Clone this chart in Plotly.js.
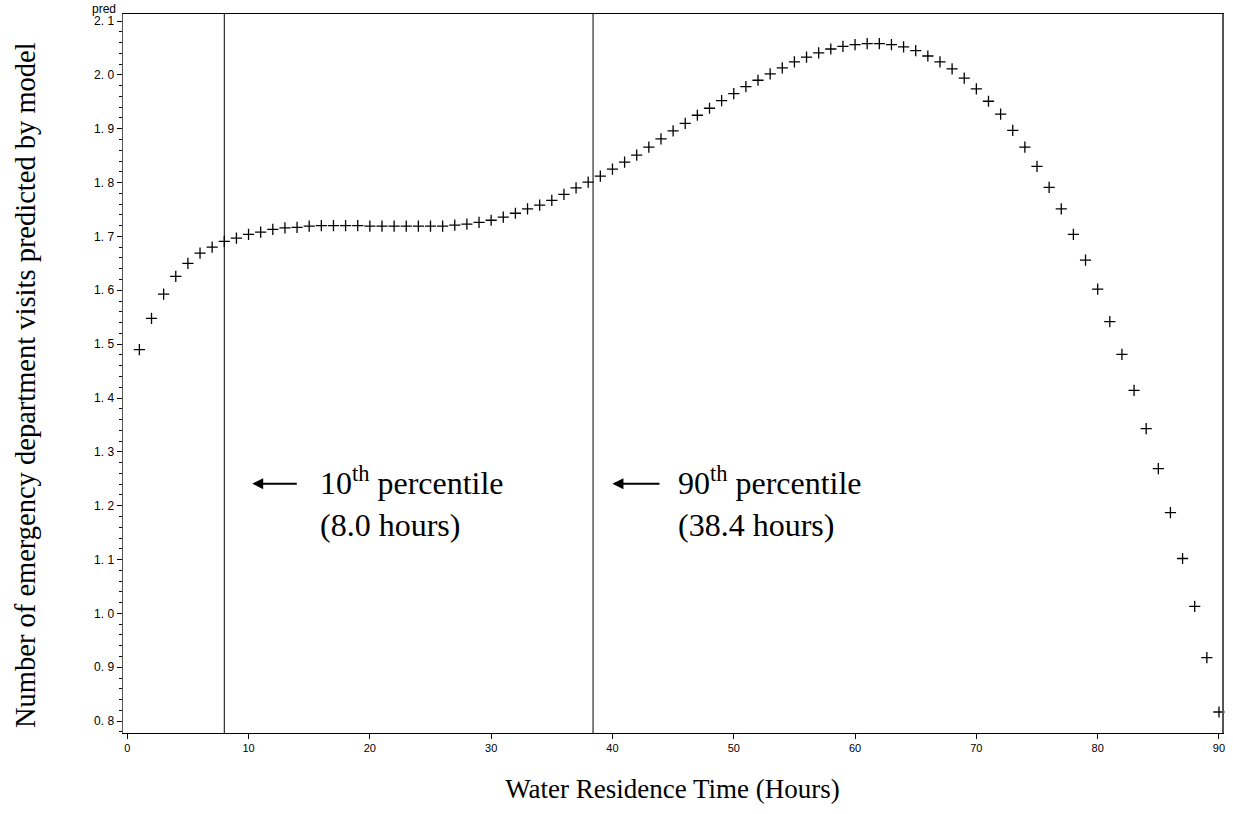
<!DOCTYPE html>
<html>
<head>
<meta charset="utf-8">
<script src="https://cdn.plot.ly/plotly-3.0.1.min.js"></script>
<style>
html,body{margin:0;padding:0;background:#fff;}
#chart{width:1233px;height:814px;}
</style>
</head>
<body>
<div id="chart"></div>
<script>
// Water residence time (hours)
const hours = [];
for (let i = 1; i <= 90; i++) hours.push(i);
// Predicted number of ED visits
const pred = [
  1.490, 1.548, 1.593, 1.626, 1.650, 1.669, 1.680, 1.691, 1.697, 1.704,
  1.708, 1.713, 1.716, 1.717, 1.719, 1.720, 1.720, 1.720, 1.720, 1.719,
  1.719, 1.719, 1.719, 1.719, 1.719, 1.719, 1.721, 1.723, 1.726, 1.730,
  1.736, 1.743, 1.751, 1.758, 1.767, 1.778, 1.790, 1.801, 1.812, 1.825,
  1.838, 1.851, 1.866, 1.881, 1.896, 1.910, 1.925, 1.938, 1.952, 1.965,
  1.978, 1.990, 2.002, 2.013, 2.024, 2.033, 2.041, 2.048, 2.053, 2.056,
  2.058, 2.058, 2.056, 2.052, 2.045, 2.035, 2.024, 2.011, 1.994, 1.974,
  1.951, 1.927, 1.897, 1.866, 1.830, 1.791, 1.751, 1.704, 1.656, 1.602,
  1.542, 1.481, 1.414, 1.343, 1.269, 1.187, 1.102, 1.013, 0.918, 0.817
];
// Percentile reference lines
const percentileX = [8.0, 38.4];
const percentileLabels = ["10<sup>th</sup> percentile", "90<sup>th</sup> percentile"];
const percentileHours = ["(8.0 hours)", "(38.4 hours)"];
const yTickVals = [0.8,0.9,1.0,1.1,1.2,1.3,1.4,1.5,1.6,1.7,1.8,1.9,2.0,2.1];
const yTickText = ["0. 8","0. 9","1. 0","1. 1","1. 2","1. 3","1. 4","1. 5","1. 6","1. 7","1. 8","1. 9","2. 0","2. 1"];
const xTickVals = [0,10,20,30,40,50,60,70,80,90];
const xTitle = 'Water Residence Time (Hours)';
const yTitle = 'Number of emergency department visits predicted by model';

const serif = "Liberation Serif, Times New Roman, serif";
const sans = "Liberation Sans, Arial, sans-serif";

const YR = [0.778, 2.113];
const shapes = percentileX.map(x => ({
  type: 'line', xref: 'x', yref: 'paper', x0: x, x1: x, y0: 0, y1: 1,
  line: {color: '#000', width: 1}
}));

// label placement offsets (layout, not data)
const headOff = [2.3, 1.6];
const tailOff = [6.1, 5.6];
const textOff = [7.7, 6.8];

const annotations = [];
percentileX.forEach((x, i) => {
  annotations.push({
    xref: 'x', yref: 'y', x: x + headOff[i], y: 1.241,
    axref: 'x', ayref: 'y', ax: x + tailOff[i], ay: 1.241,
    text: '', showarrow: true, arrowhead: 2, arrowsize: 1.1, arrowwidth: 2, arrowcolor: '#000'
  });
  annotations.push({
    xref: 'x', yref: 'y', x: x + textOff[i], y: 1.246, xanchor: 'left', yanchor: 'middle',
    text: percentileLabels[i], showarrow: false,
    font: {family: serif, size: 32, color: '#000'}
  });
  annotations.push({
    xref: 'x', yref: 'y', x: x + textOff[i], y: 1.165, xanchor: 'left', yanchor: 'middle',
    text: percentileHours[i], showarrow: false,
    font: {family: serif, size: 32, color: '#000'}
  });
});
annotations.push({
  xref: 'paper', yref: 'paper', x: 0, y: 1, xanchor: 'right', yanchor: 'bottom',
  xshift: -5, yshift: -4, text: 'pred', showarrow: false,
  font: {family: sans, size: 12, color: '#000'}
});
// y-axis title drawn as rotated text
annotations.push({
  xref: 'paper', yref: 'paper', x: 0, y: 0.484, xanchor: 'center', yanchor: 'middle',
  xshift: -98, text: yTitle, textangle: -90, showarrow: false,
  font: {family: serif, size: 28.5, color: '#000'}
});

const trace = {
  x: hours, y: pred, type: 'scatter', mode: 'markers',
  marker: {symbol: 'cross-thin-open', size: 8, color: '#000', line: {color: '#000', width: 1.3}},
  cliponaxis: false, hoverinfo: 'x+y'
};

const layout = {
  width: 1233, height: 814,
  margin: {l: 123, r: 11, t: 14, b: 81},
  paper_bgcolor: '#fff', plot_bgcolor: '#fff',
  showlegend: false,
  xaxis: {
    range: [-0.35, 90.25], tickvals: xTickVals, ticktext: xTickVals.map(String),
    ticks: 'outside', ticklen: 5, tickwidth: 1, tickcolor: '#000',
    showgrid: false, zeroline: false,
    showline: true, linecolor: '#000', linewidth: 1, mirror: true,
    tickfont: {family: sans, size: 11, color: '#000'},
    title: {text: xTitle, font: {family: serif, size: 27, color: '#000'}, standoff: 25}
  },
  yaxis: {
    range: YR, tickvals: yTickVals, ticktext: yTickText,
    ticks: 'outside', ticklen: 5, tickwidth: 1, tickcolor: '#000',
    minor: {dtick: 0.02, ticks: 'outside', ticklen: 3, tickcolor: '#000', tickwidth: 1, showgrid: false},
    showgrid: false, zeroline: false,
    showline: true, linecolor: '#555', linewidth: 1.5, mirror: true,
    tickfont: {family: sans, size: 12, color: '#000'}
  },
  shapes: shapes,
  annotations: annotations
};

Plotly.newPlot('chart', [trace], layout, {displayModeBar: false, staticPlot: true});
</script>
</body>
</html>
